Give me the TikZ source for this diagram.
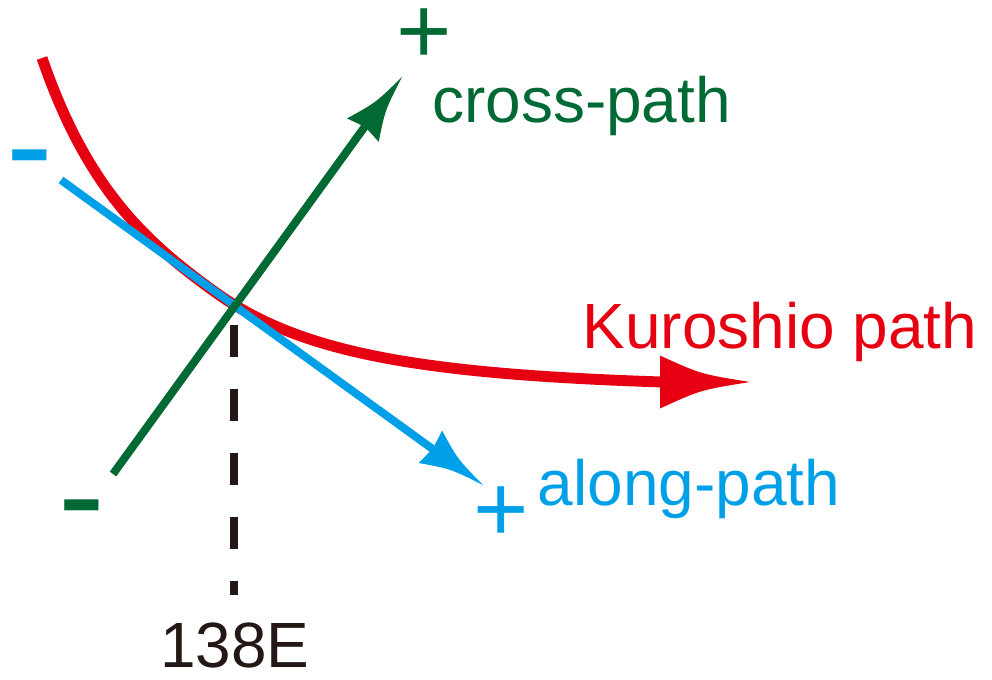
\documentclass[tikz,border=0pt]{standalone}
\usepackage{fontspec}
\setmainfont{Liberation Sans}
\definecolor{kred}{HTML}{E60012}
\definecolor{kgreen}{HTML}{006934}
\definecolor{kblue}{HTML}{00A0E9}
\definecolor{kblack}{HTML}{231815}
\begin{document}
\begin{tikzpicture}[x=0.02cm,y=-0.02cm,
  lbl/.style={font=\fontsize{36.4pt}{40pt}\selectfont, inner sep=0pt, anchor=base},
  signp/.style={font=\fontsize{54pt}{60pt}\selectfont, inner sep=0pt, anchor=base, text height=0.6em, text depth=0pt},
  signm/.style={font=\fontsize{79.7pt}{85pt}\selectfont, inner sep=0pt, anchor=base},
  pics/ahead/.style n args={3}{code={\fill (0,0) .. controls (-0.55*#1,-0.3*#2) .. (-#1,-#2) -- (-#1+#3,0) -- (-#1,#2) .. controls (-0.55*#1,0.3*#2) .. cycle;}}
]
\useasboundingbox (0,0) rectangle (992,680);
% coordinates
\coordinate (rS) at (42,58);
\coordinate (rM) at (215,292);
\coordinate (rE) at (662,382);
\coordinate (rT) at (750,382);
\coordinate (gS) at (113,474);
\coordinate (gB) at (366,125);
\coordinate (gT) at (402,77);
\coordinate (bS) at (61,180);
\coordinate (bB) at (434,450);
\coordinate (bT) at (483,485);
\coordinate (d1) at (234,325);
\coordinate (d2) at (234,595);
% dashed meridian
\draw[kblack, line width=4.55pt, dash pattern=on 18.2pt off 18.2pt] (d1) -- (d2);
% Kuroshio path
\draw[kred, line width=6.2pt] (rS) .. controls (87,188.5) and (145,241.6) .. (rM)
  .. controls (300,353.2) and (420,374) .. (rE);
\pic[kred] at (rT) {ahead={90}{26.5}{0}};
% along-path axis
\draw[kblue, line width=4.55pt] (bS) -- (bB);
\pic[kblue, rotate=-36] at (bT) {ahead={65}{20}{3}};
% cross-path axis
\draw[kgreen, line width=4.55pt] (gS) -- (gB);
\pic[kgreen, rotate=53.6] at (gT) {ahead={66}{19.7}{4}};
% labels
\node[lbl, text=kgreen] (tc) at (581.5,122) {cross-path};
\node[lbl, text=kred] (tk) at (780,348) {Kuroshio path};
\node[lbl, text=kblue] (ta) at (689,505) {along-path};
\node[lbl, text=kblack] (te) at (235,667) {138E};
\node[signp, text=kgreen] (gp) at (424,63) {+};
\node[signp, text=kblue] (bp) at (501,541) {+};
\node[signm, text=kblue] (bm) at (30,192.6) {-};
\node[signm, text=kgreen] (gm) at (82,542.6) {-};
\end{tikzpicture}
\end{document}
